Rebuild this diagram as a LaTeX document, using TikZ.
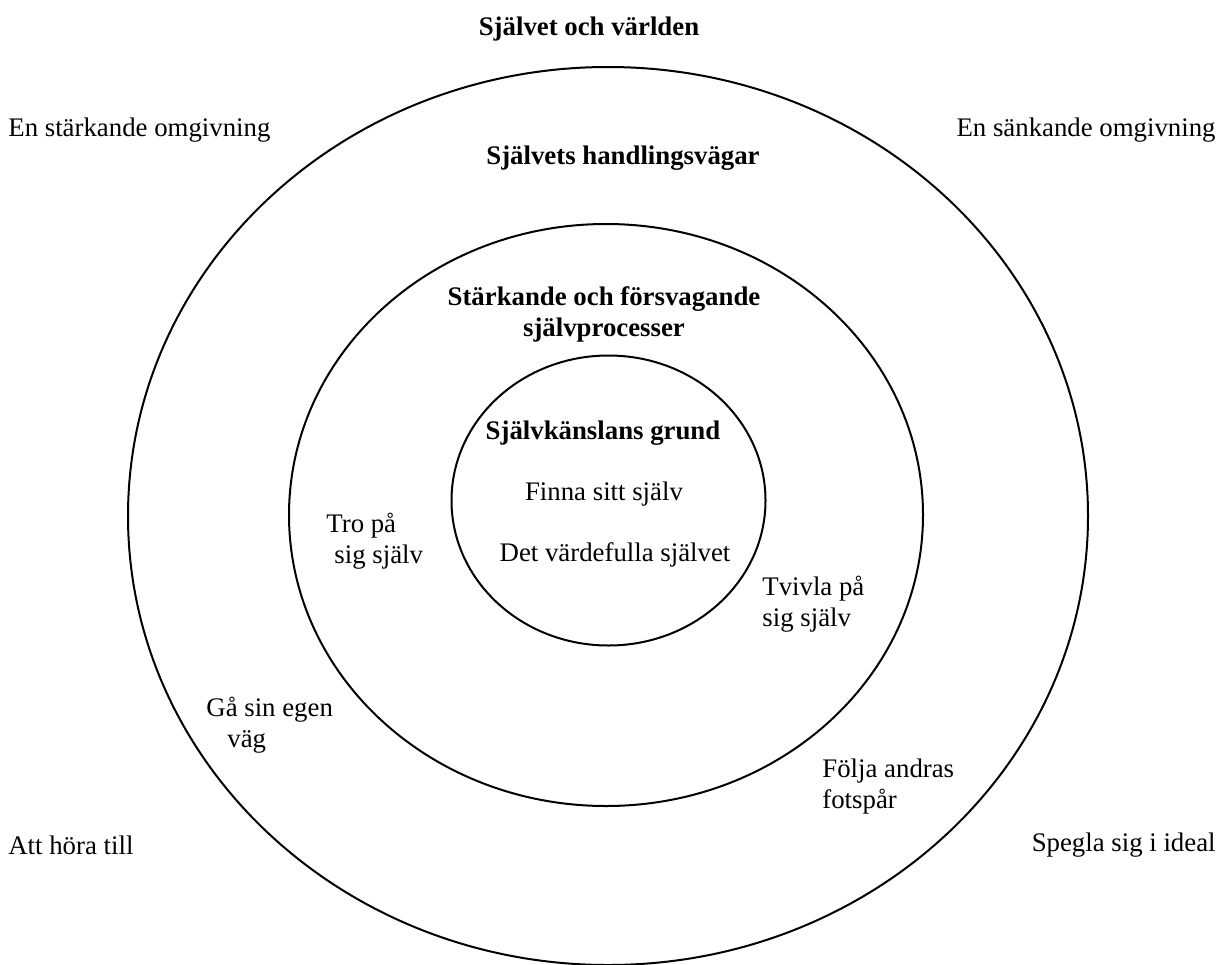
\documentclass[tikz,border=0pt]{standalone}
\usepackage{fontspec}
\setmainfont{Liberation Serif}
\usepackage{tikz}

\begin{document}
\begin{tikzpicture}[x=0.5pt, y=-0.5pt,
    ring/.style ={draw, line width=1pt},
    txt/.style ={inner sep=0pt, font=\fontsize{13.4}{15.5}\selectfont, align=left},
    heading/.style ={inner sep=0pt, font=\fontsize{13.4}{15.5}\selectfont\bfseries, align=center}]
   \useasboundingbox (0,0) rectangle (1220,964);

   % rings
   \draw[ring] (608,516) ellipse (240pt and 224.5pt);
   \draw[ring] (606,515) ellipse (158.5pt and 145.5pt);
   \draw[ring] (608.5,500.5) ellipse (78.5pt and 72.5pt);

   % headings
   \node[heading] (world)  at (589,29)  {Självet och världen};
   \node[heading] (ways)   at (623,158) {Självets handlingsvägar};
   \node[heading] (proc)   at (604,314) {Stärkande och försvagande\\självprocesser};
   \node[heading] (ground) at (603,433) {Självkänslans grund};

   % corners
   \node[txt, anchor=west] (strong) at (8,130)    {En stärkande omgivning};
   \node[txt, anchor=east] (weak)   at (1216,130) {En sänkande omgivning};
   \node[txt, anchor=west] (belong) at (8,845)    {Att höra till};
   \node[txt, anchor=east] (ideal)  at (1216,845) {Spegla sig i ideal};

   % inside the rings
   \node[txt] (find)   at (604,494) {Finna sitt själv};
   \node[txt] (value)  at (615,555) {Det värdefulla självet};
   \node[txt, anchor=west] (trust)  at (326,541) {Tro på\\\hspace*{4pt}sig själv};
   \node[txt, anchor=west] (doubt)  at (762,604) {Tvivla på\\sig själv};
   \node[txt, anchor=west] (own)    at (206,725) {Gå sin egen\\\hspace*{10.5pt}väg};
   \node[txt, anchor=west] (follow) at (822,787) {Följa andras\\fotspår};
 \end{tikzpicture}
\end{document}
